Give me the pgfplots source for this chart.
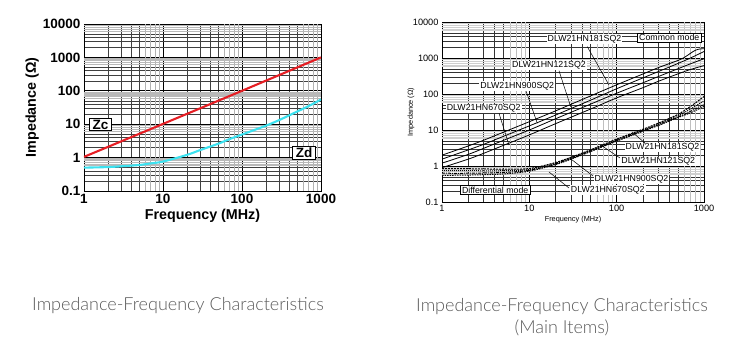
\documentclass[border=0pt]{standalone}
\usepackage{fontspec}
\setmainfont{Liberation Sans}
\newfontfamily\capfont{Lato Light}
\usepackage{pgfplots}
\pgfplotsset{compat=1.18}
\definecolor{zcred}{RGB}{230,30,36}
\definecolor{zdcyan}{RGB}{60,226,240}
\definecolor{capgray}{RGB}{90,90,90}

\begin{document}
\begin{tikzpicture}
\path[use as bounding box] (0,0) rectangle (748pt,352pt);

% ---------------- Left chart ----------------
\begin{axis}[
  xmode=log, ymode=log, scale only axis,
  at={(84pt,161pt)}, anchor=south west, width=237pt, height=167pt,
  xmin=1, xmax=1000, ymin=0.1, ymax=10000,
  xtick={1,10,100,1000}, xticklabels={1,10,100,1000},
  ytick={0.1,1,10,100,1000,10000}, yticklabels={0.1,1,10,100,1000,10000},
  minor xtick={2,3,4,5,20,30,40,50,200,300,400,500},
  minor ytick={0.2,0.3,0.4,0.5,2,3,4,5,20,30,40,50,200,300,400,500,2000,3000,4000,5000},
  extra y ticks={0.6,0.7,0.8,0.9,6,7,8,9,60,70,80,90,600,700,800,900,6000,7000,8000,9000},
  extra y tick labels={},
  extra x ticks={6,7,8,9,60,70,80,90,600,700,800,900},
  extra x tick labels={},
  grid=both,
  major tick length=0pt, minor tick length=0pt,
  major grid style={black, line width=0.75pt},
  axis line style={black, line width=0.8pt},
  minor grid style={black!75, line width=0.4pt},
  extra y tick style={major grid style={gray!55, line width=1.3pt}},
  extra x tick style={major grid style={gray!60, line width=0.6pt}},
  ticklabel style={font=\fontsize{13.5}{14}\selectfont\bfseries},
  xlabel={Frequency (MHz)}, ylabel={Impedance (Ω)},
  label style={font=\fontsize{14.3}{15}\selectfont\bfseries},
  xlabel style={at={(axis description cs:0.5,-0.15)}, anchor=center},
  ylabel style={at={(axis description cs:-0.219,0.5)}, anchor=center},
]
\addplot[zcred, line width=2.1pt] coordinates {(1,1.05) (10,10.2) (100,100) (1000,1000)};
\addplot[zdcyan, line width=2.1pt, smooth] coordinates {
 (1,0.5) (2,0.52) (3,0.55) (5,0.6) (7,0.67) (10,0.76) (20,1.2) (30,1.7) (50,2.6)
 (70,3.6) (100,4.9) (200,9) (300,13.5) (500,24) (700,35) (1000,55)};
\end{axis}
\node[draw=black, line width=0.6pt, fill=white, inner xsep=3pt, inner ysep=1.5pt,
  font=\fontsize{13.5}{14}\selectfont\bfseries] at (100.5pt,227.5pt) {Zc};
\node[draw=black, line width=0.6pt, fill=white, inner xsep=3pt, inner ysep=1.5pt,
  font=\fontsize{13.5}{14}\selectfont\bfseries] at (304pt,199pt) {Zd};

% ---------------- Right chart ----------------
\begin{axis}[
  xmode=log, ymode=log, scale only axis,
  at={(442pt,150pt)}, anchor=south west, width=262pt, height=180pt,
  xmin=1, xmax=1000, ymin=0.1, ymax=10000,
  xtick={1,10,100,1000}, xticklabels={1,10,100,1000},
  ytick={0.1,1,10,100,1000,10000}, yticklabels={0.1,1,10,100,1000,10000},
  minor xtick={2,3,4,5,20,30,40,50,200,300,400,500},
  minor ytick={0.2,0.3,0.4,0.5,2,3,4,5,20,30,40,50,200,300,400,500,2000,3000,4000,5000},
  extra y ticks={0.6,0.7,0.8,0.9,6,7,8,9,60,70,80,90,600,700,800,900,6000,7000,8000,9000},
  extra y tick labels={},
  extra x ticks={6,7,8,9,60,70,80,90,600,700,800,900},
  extra x tick labels={},
  grid=both,
  major tick length=0pt, minor tick length=0pt,
  major grid style={black, line width=0.6pt},
  axis line style={black, line width=0.8pt},
  minor grid style={black!80, line width=0.35pt},
  extra y tick style={major grid style={gray!38, line width=1.6pt}},
  extra x tick style={major grid style={gray!50, line width=0.6pt}},
  ticklabel style={font=\fontsize{9.2}{10}\selectfont},
  xlabel={Frequency (MHz)}, ylabel={Impedance (Ω)},
  label style={font=\fontsize{7.3}{8}\selectfont},
  xlabel style={at={(axis description cs:0.5,-0.1)}, anchor=center},
  ylabel style={at={(axis description cs:-0.118,0.5)}, anchor=center},
]
% common mode
\addplot[black, line width=0.8pt, smooth] coordinates {
 (1,2.0) (2,3.6) (3,5.2) (5,8.6) (10,17) (20,34) (50,88) (100,180) (200,360)
 (300,540) (500,850) (600,1050) (700,1350) (800,1650) (900,1780) (1000,1810)};
\addplot[black, line width=0.8pt, smooth] coordinates {
 (1,1.55) (2,2.8) (3,4.0) (5,6.6) (10,13) (20,26) (50,67) (100,140) (200,280)
 (300,420) (500,700) (700,1000) (850,1250) (1000,1520)};
\addplot[black, line width=0.8pt, smooth] coordinates {
 (1,1.2) (2,2.1) (3,3.1) (5,5.1) (10,10) (20,20.5) (50,52) (100,105) (200,205)
 (300,305) (500,500) (700,690) (1000,955)};
\addplot[black, line width=0.8pt, smooth] coordinates {
 (1,0.9) (2,1.55) (3,2.25) (5,3.7) (10,7.3) (20,15) (50,38) (100,78) (200,150)
 (300,225) (500,360) (700,480) (1000,614)};
% differential mode
\addplot[black, line width=1pt, dash pattern=on 2pt off 1pt, smooth] coordinates {
 (1,0.85) (2,0.84) (5,0.82) (10,0.85) (20,1.25) (30,1.75) (50,2.8) (100,5.6)
 (200,10.5) (300,15.5) (500,27) (700,45) (1000,85)};
\addplot[black, line width=1pt, densely dotted, smooth] coordinates {
 (1,0.75) (2,0.74) (5,0.74) (10,0.8) (20,1.2) (30,1.7) (50,2.7) (100,5.3)
 (200,10) (300,14.5) (500,25) (700,38) (1000,65)};
\addplot[black, line width=1pt, dash pattern=on 3pt off 1pt on 1pt off 1pt, smooth] coordinates {
 (1,0.63) (2,0.63) (5,0.66) (10,0.76) (20,1.15) (30,1.6) (50,2.6) (100,5.1)
 (200,9.6) (300,14) (500,23) (700,33) (1000,52)};
\addplot[black, line width=1pt, dash pattern=on 1.5pt off 1pt, smooth] coordinates {
 (1,0.55) (2,0.56) (5,0.6) (10,0.72) (20,1.1) (30,1.55) (50,2.5) (100,4.9)
 (200,9.2) (300,13.3) (500,22) (700,30) (1000,45)};
\end{axis}

% leader lines
\begin{scope}[black, line width=0.5pt]
\draw (587.3pt,305.3pt) -- (609pt,267pt);
\draw (559pt,281.3pt) -- (570.7pt,245.3pt);
\draw (525.7pt,262pt) -- (537.3pt,228.7pt);
\draw (499pt,238.7pt) -- (509pt,207pt);
\draw (632pt,220pt) -- (645pt,209pt);
\draw (603.3pt,205.3pt) -- (620pt,194pt);
\draw (570pt,193.7pt) -- (593pt,176pt);
\draw (549pt,180pt) -- (569pt,164pt);
\end{scope}

\begin{scope}[every node/.style={fill=white, inner xsep=1pt, inner ysep=0.8pt, font=\fontsize{8.8}{9}\selectfont}]
\node at (584.5pt,313pt) {DLW21HN181SQ2};
\node at (549pt,286.3pt) {DLW21HN121SQ2};
\node at (517.3pt,266pt) {DLW21HN900SQ2};
\node at (483.7pt,243.7pt) {DLW21HN670SQ2};
\node at (662.5pt,204.3pt) {DLW21HN181SQ2};
\node at (658.3pt,190.3pt) {DLW21HN121SQ2};
\node at (631.5pt,173pt) {DLW21HN900SQ2};
\node at (607.8pt,162pt) {DLW21HN670SQ2};
\node[draw=black, line width=0.5pt, inner xsep=2pt, inner ysep=1.2pt] at (669.3pt,314.5pt) {Common mode};
\node[draw=black, line width=0.5pt, inner xsep=2pt, inner ysep=1.2pt] at (495.2pt,162pt) {Differential mode};
\end{scope}

% captions
\node[font=\capfont\fontsize{18}{22}\selectfont, text=capgray] at (178pt,46pt) {Impedance-Frequency Characteristics};
\node[font=\capfont\fontsize{18}{22}\selectfont, text=capgray, align=center] at (562pt,35pt) {Impedance-Frequency Characteristics\\(Main Items)};
\end{tikzpicture}
\end{document}
